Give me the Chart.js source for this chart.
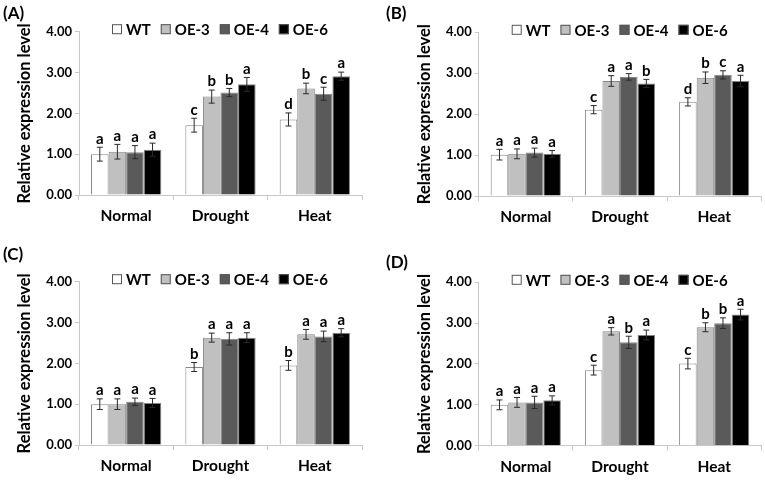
<!DOCTYPE html>
<html>
<head>
<meta charset="utf-8">
<script src="https://cdn.jsdelivr.net/npm/chart.js@4.4.0/dist/chart.umd.min.js"></script>
<style>
  html, body { margin: 0; padding: 0; background: #fff; }
  #wrap { position: relative; width: 765px; height: 481px; overflow: hidden; }
  canvas { position: absolute; }
</style>
</head>
<body>
<div id="wrap">
  <canvas id="chartA" width="383" height="240" style="left:0;top:0"></canvas>
  <canvas id="chartB" width="382" height="240" style="left:383px;top:0"></canvas>
  <canvas id="chartC" width="383" height="241" style="left:0;top:240px"></canvas>
  <canvas id="chartD" width="382" height="241" style="left:383px;top:240px"></canvas>
</div>
<script>
const categories = ["Normal", "Drought", "Heat"];
const seriesNames = ["WT", "OE-3", "OE-4", "OE-6"];

// rows = WT, OE-3, OE-4, OE-6 ; columns = Normal, Drought, Heat
const valuesA = [[1.00, 1.71, 1.85], [1.06, 2.41, 2.61], [1.05, 2.51, 2.48], [1.11, 2.71, 2.91]];
const errorsA = [[0.17, 0.17, 0.16], [0.18, 0.16, 0.13], [0.16, 0.10, 0.16], [0.16, 0.17, 0.10]];
const lettersA = [["a", "c", "d"], ["a", "b", "b"], ["a", "b", "c"], ["a", "a", "a"]];

const valuesB = [[1.01, 2.11, 2.30], [1.03, 2.81, 2.89], [1.06, 2.91, 2.96], [1.03, 2.75, 2.81]];
const errorsB = [[0.13, 0.10, 0.10], [0.12, 0.13, 0.14], [0.11, 0.08, 0.10], [0.08, 0.10, 0.14]];
const lettersB = [["a", "c", "d"], ["a", "a", "b"], ["a", "a", "c"], ["a", "b", "a"]];

const valuesC = [[1.00, 1.91, 1.95], [1.00, 2.63, 2.71], [1.06, 2.60, 2.66], [1.03, 2.63, 2.75]];
const errorsC = [[0.13, 0.11, 0.12], [0.13, 0.11, 0.12], [0.09, 0.15, 0.13], [0.11, 0.12, 0.10]];
const lettersC = [["a", "b", "b"], ["a", "a", "a"], ["a", "a", "a"], ["a", "a", "a"]];

const valuesD = [[1.00, 1.85, 2.01], [1.06, 2.80, 2.90], [1.06, 2.53, 3.00], [1.11, 2.71, 3.21]];
const errorsD = [[0.12, 0.12, 0.13], [0.12, 0.09, 0.11], [0.15, 0.15, 0.13], [0.11, 0.12, 0.13]];
const lettersD = [["a", "c", "c"], ["a", "a", "b"], ["a", "b", "b"], ["a", "a", "a"]];

const yTicks = [0, 1, 2, 3, 4];

const fillColors = ["#ffffff", "#c0c0c0", "#5a5a5a", "#000000"];
const FONT = "Lato, 'Open Sans', sans-serif";

// error bars, significance letters, legend and panel tag
const extrasPlugin = {
  id: "extras",
  afterDatasetsDraw(chart, args, opts) {
    const ctx = chart.ctx;
    const y = chart.scales.y;
    ctx.save();
    chart.data.datasets.forEach((ds, i) => {
      chart.getDatasetMeta(i).data.forEach((bar, j) => {
        const v = ds.data[j];
        const e = opts.errors[i][j];
        const top = y.getPixelForValue(v + e);
        const bot = y.getPixelForValue(v - e);
        ctx.strokeStyle = "#2a2a2a";
        ctx.lineWidth = 1;
        ctx.beginPath();
        ctx.moveTo(bar.x, top);
        ctx.lineTo(bar.x, bot);
        ctx.moveTo(bar.x - 3, top);
        ctx.lineTo(bar.x + 3, top);
        ctx.moveTo(bar.x - 3, bot);
        ctx.lineTo(bar.x + 3, bot);
        ctx.stroke();
        ctx.fillStyle = "#000";
        ctx.font = "bold 15px " + FONT;
        ctx.textAlign = "center";
        ctx.textBaseline = "bottom";
        ctx.fillText(opts.letters[i][j], bar.x, top - 1);
      });
    });

    // legend
    const area = chart.chartArea;
    let lx = area.left + 33;
    const ly = area.top - 2.5;
    ctx.font = "bold 15px " + FONT;
    ctx.textAlign = "left";
    ctx.textBaseline = "middle";
    chart.data.datasets.forEach((ds) => {
      ctx.fillStyle = ds.backgroundColor;
      ctx.fillRect(lx, ly - 5, 10, 10);
      ctx.strokeStyle = "#555";
      ctx.lineWidth = 1;
      ctx.strokeRect(lx + 0.5, ly - 4.5, 9, 9);
      ctx.fillStyle = "#000";
      ctx.fillText(ds.label, lx + 14, ly + 1);
      lx += 14 + ctx.measureText(ds.label).width + 10;
    });

    // panel tag
    ctx.font = "bold 17px " + FONT;
    ctx.textBaseline = "middle";
    ctx.fillText(opts.tag, 3, opts.tagY);
    ctx.restore();
  }
};

function makeChart(id, values, errors, letters, p) {
  const titleSize = 16.5;
  const titlePad = p.yW - 54 - titleSize * 1.2 / 2;
  return new Chart(document.getElementById(id), {
    type: "bar",
    data: {
      labels: categories,
      datasets: seriesNames.map((name, i) => ({
        label: name,
        data: values[i],
        backgroundColor: fillColors[i],
        borderColor: "#858585",
        borderWidth: 1,
        barPercentage: 1,
        categoryPercentage: 0.745
      }))
    },
    options: {
      responsive: false,
      animation: false,
      layout: { padding: { left: 0, right: p.right, top: p.top, bottom: 0 } },
      plugins: {
        legend: { display: false },
        tooltip: { enabled: false },
        extras: { errors: errors, letters: letters, tag: p.tag, tagY: p.tagY }
      },
      scales: {
        x: {
          grid: { drawOnChartArea: false, tickLength: 5, color: "#c8c8c8", offset: true },
          border: { color: "#c8c8c8" },
          ticks: { color: "#000", padding: 7, font: { family: FONT, weight: "bold", size: 15.5 } },
          afterFit(scale) { scale.height = p.xH; }
        },
        y: {
          min: 0,
          max: 4,
          afterBuildTicks(scale) { scale.ticks = yTicks.map((v) => ({ value: v })); },
          grid: { drawOnChartArea: false, tickLength: 4, color: "#c8c8c8" },
          border: { color: "#c8c8c8" },
          ticks: {
            color: "#000",
            padding: 3,
            font: { family: FONT, weight: "bold", size: 13 },
            callback: (v) => Number(v).toFixed(2)
          },
          title: {
            display: true,
            text: "Relative expression level",
            color: "#000",
            font: { family: FONT, weight: "bold", size: titleSize },
            padding: { top: titlePad, bottom: 0 }
          },
          afterFit(scale) { scale.width = p.yW; }
        }
      }
    },
    plugins: [extrasPlugin]
  });
}

makeChart("chartA", valuesA, errorsA, lettersA, { yW: 79, right: 21, top: 31.7, xH: 45, tag: "(A)", tagY: 14 });
makeChart("chartB", valuesB, errorsB, lettersB, { yW: 95.7, right: 3.7, top: 32.3, xH: 44, tag: "(B)", tagY: 14 });
makeChart("chartC", valuesC, errorsC, lettersC, { yW: 79, right: 21, top: 41.7, xH: 36, tag: "(C)", tagY: 15 });
makeChart("chartD", valuesD, errorsD, lettersD, { yW: 95.7, right: 3.7, top: 42.3, xH: 35.3, tag: "(D)", tagY: 23 });
</script>
</body>
</html>
